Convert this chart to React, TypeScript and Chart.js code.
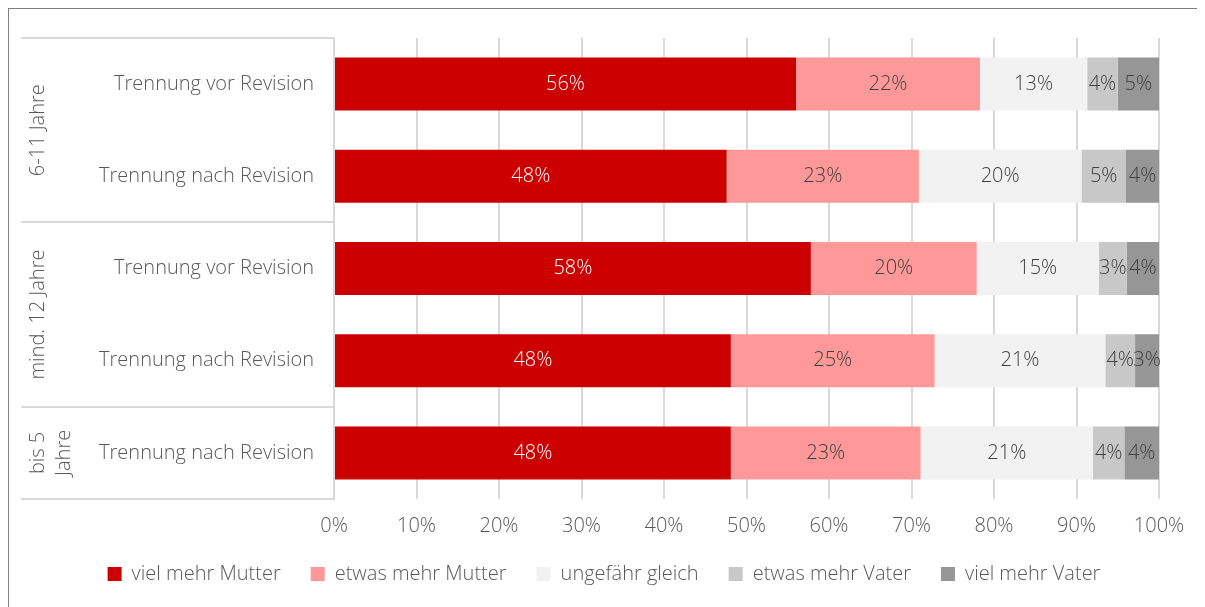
import React, { useEffect, useRef } from "react";
import { Chart, registerables } from "chart.js";

Chart.register(...registerables);

const categories = [
  "Trennung vor Revision",
  "Trennung nach Revision",
  "Trennung vor Revision",
  "Trennung nach Revision",
  "Trennung nach Revision",
];
const groupLabels = [["6-11 Jahre"], ["mind. 12 Jahre"], ["bis 5", "Jahre"]];
const groupSizes = [2, 2, 1];

const seriesNames = [
  "viel mehr Mutter",
  "etwas mehr Mutter",
  "ungefähr gleich",
  "etwas mehr Vater",
  "viel mehr Vater",
];
const vielMehrMutter = [56.0, 47.6, 57.8, 48.1, 48.1];
const etwasMehrMutter = [22.3, 23.3, 20.1, 24.7, 23.0];
const ungefaehrGleich = [13.0, 19.7, 14.8, 20.7, 20.9];
const etwasMehrVater = [3.7, 5.4, 3.4, 3.6, 3.8];
const vielMehrVater = [5.0, 4.0, 3.9, 2.9, 4.2];
const seriesValues = [vielMehrMutter, etwasMehrMutter, ungefaehrGleich, etwasMehrVater, vielMehrVater];
const seriesColors = ["#cc0000", "#ff9999", "#f2f2f2", "#c8c8c8", "#969696"];
const labelColors = ["#ffffff", "#404040", "#404040", "#404040", "#404040"];

const xTicks = [0, 10, 20, 30, 40, 50, 60, 70, 80, 90, 100];

const FONT = "'Open Sans', sans-serif";
const FS = 20;
const FW = 300;
const TEXT = "#595959";
const GRID = "#d9d9d9";

const dataLabelPlugin = {
  id: "dataLabels",
  afterDatasetsDraw(chart: any) {
    const ctx = chart.ctx;
    ctx.save();
    ctx.font = `${FW} ${FS}px ${FONT}`;
    ctx.textAlign = "center";
    ctx.textBaseline = "middle";
    chart.data.datasets.forEach((ds: any, di: number) => {
      const meta = chart.getDatasetMeta(di);
      meta.data.forEach((bar: any, i: number) => {
        const v = ds.data[i];
        const cx = (bar.x + bar.base) / 2;
        ctx.fillStyle = labelColors[di];
        ctx.fillText(Math.round(v) + "%", cx, bar.y);
      });
    });
    ctx.restore();
  },
};

const groupPlugin = {
  id: "groups",
  afterDraw(chart: any) {
    const ctx = chart.ctx;
    const area = chart.chartArea;
    const step = (area.bottom - area.top) / categories.length;
    ctx.save();
    ctx.strokeStyle = GRID;
    ctx.lineWidth = 2;
    let idx = 0;
    const bounds: number[] = [area.top];
    groupSizes.forEach((s) => {
      idx += s;
      bounds.push(area.top + idx * step);
    });
    bounds.forEach((b) => {
      ctx.beginPath();
      ctx.moveTo(12, Math.round(b));
      ctx.lineTo(area.left, Math.round(b));
      ctx.stroke();
    });
    ctx.font = `${FW} ${FS}px ${FONT}`;
    ctx.fillStyle = TEXT;
    ctx.textAlign = "center";
    ctx.textBaseline = "middle";
    groupLabels.forEach((lines, gi) => {
      const cy = (bounds[gi] + bounds[gi + 1]) / 2;
      lines.forEach((line, li) => {
        const cx = 29 + li * 26;
        ctx.save();
        ctx.translate(cx, cy);
        ctx.rotate(-Math.PI / 2);
        ctx.fillText(line, 0, 0);
        ctx.restore();
      });
    });
    ctx.restore();
  },
};

export default function App() {
  const ref = useRef<HTMLCanvasElement>(null);
  useEffect(() => {
    document.body.style.overflow = "hidden";
    if (!ref.current) return;
    const font = { family: FONT, size: FS, weight: FW as any };
    const chart = new Chart(ref.current, {
      type: "bar",
      data: {
        labels: categories,
        datasets: seriesNames.map((name, i) => ({
          label: name,
          data: seriesValues[i],
          backgroundColor: seriesColors[i],
          borderWidth: 0,
          barPercentage: 0.575,
          categoryPercentage: 1,
        })),
      },
      options: {
        indexAxis: "y",
        animation: false,
        responsive: false,
        maintainAspectRatio: false,
        layout: { padding: { top: 29, right: 58, bottom: 23, left: 40 } },
        scales: {
          x: {
            stacked: true,
            min: 0,
            max: 100,
            afterBuildTicks: (scale: any) => {
              scale.ticks = xTicks.map((v) => ({ value: v }));
            },
            afterFit: (scale: any) => {
              scale.height = 35;
            },
            ticks: {
              callback: (v: any) => v + "%",
              color: TEXT,
              font,
              padding: 15,
            },
            grid: { color: GRID, lineWidth: 2, drawTicks: false },
            border: { display: false },
          },
          y: {
            stacked: true,
            afterFit: (scale: any) => {
              scale.width = 285;
              scale.paddingTop = 0;
              scale.paddingBottom = 0;
            },
            ticks: {
              color: TEXT,
              font,
              padding: 20,
            },
            grid: { display: false, drawTicks: false },
            border: { display: true, color: GRID, width: 2 },
          },
        },
        plugins: {
          legend: {
            position: "bottom",
            labels: {
              boxWidth: 14,
              boxHeight: 14,
              color: TEXT,
              font,
              padding: 30,
            },
          },
          tooltip: { enabled: false },
        },
      },
      plugins: [dataLabelPlugin, groupPlugin],
    } as any);
    return () => chart.destroy();
  }, []);
  return (
    <div
      style={{
        width: 1210,
        height: 610,
        border: "1px solid #7f7f7f",
        boxSizing: "border-box",
        background: "#fff",
      }}
    >
      <canvas ref={ref} width={1208} height={608} style={{ display: "block" }} />
    </div>
  );
}
